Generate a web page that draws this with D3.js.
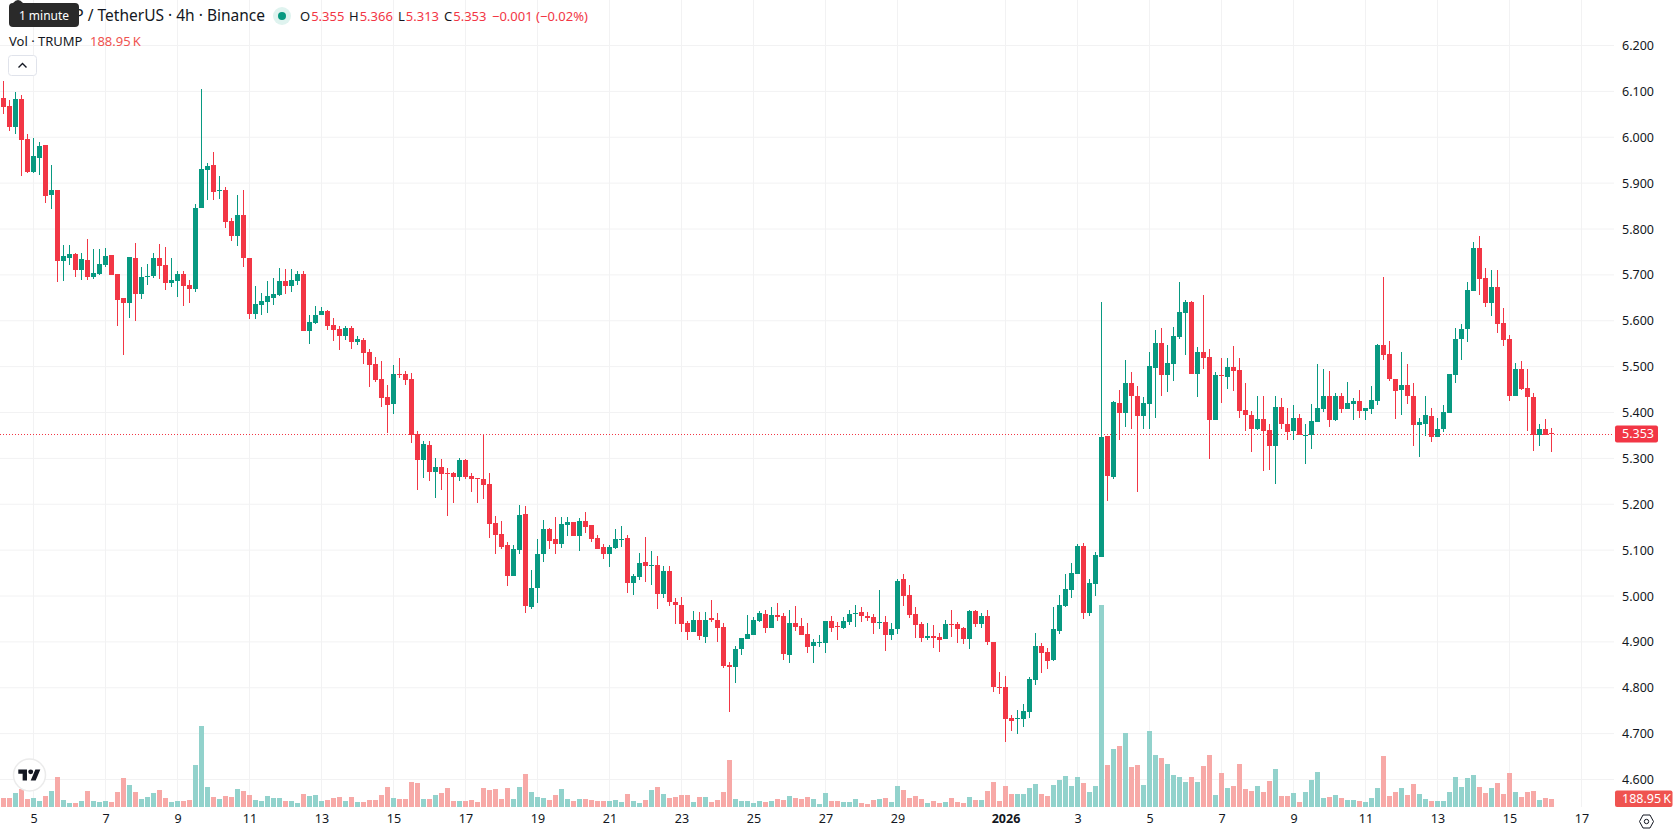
<!DOCTYPE html>
<html>
<head>
<meta charset="utf-8">
<title>TRUMP / TetherUS 4h</title>
<script src="https://cdnjs.cloudflare.com/ajax/libs/d3/7.8.5/d3.min.js"></script>
<style>
  html, body { margin: 0; padding: 0; background: #fff; overflow: hidden; }
  svg { display: block; font-family: "Noto Sans", sans-serif; }
</style>
</head>
<body>
<svg id="chart" width="1678" height="835"></svg>
<script>
// 4h candles, oldest first
const opens = [
  6.085,6.068,6.022,6.083,5.996,5.924,5.955,5.983,5.874,5.885,
  5.730,5.736,5.745,5.710,5.732,5.695,5.701,5.721,5.743,5.701,
  5.649,5.638,5.736,5.658,5.695,5.697,5.736,5.721,5.682,5.686,
  5.701,5.677,5.669,5.845,5.928,5.939,5.883,5.885,5.817,5.784,
  5.830,5.736,5.614,5.634,5.640,5.649,5.656,5.686,5.675,5.686,
  5.701,5.577,5.595,5.612,5.621,5.590,5.581,5.566,5.584,5.553,
  5.558,5.532,5.506,5.473,5.434,5.419,5.484,5.484,5.473,5.353,
  5.296,5.329,5.270,5.281,5.268,5.268,5.259,5.296,5.261,5.257,
  5.255,5.244,5.159,5.135,5.111,5.043,5.100,5.179,4.976,5.017,
  5.091,5.146,5.124,5.113,5.155,5.161,5.131,5.163,5.154,5.126,
  5.107,5.091,5.104,5.122,5.126,5.028,5.041,5.074,5.065,5.067,
  5.004,5.054,4.987,4.981,4.942,4.921,4.948,4.911,4.951,4.948,
  4.933,4.850,4.846,4.885,4.907,4.916,4.946,4.961,4.931,4.959,
  4.957,4.872,4.942,4.935,4.918,4.892,4.898,4.898,4.946,4.935,
  4.931,4.944,4.961,4.966,4.957,4.955,4.942,4.944,4.916,4.929,
  5.036,5.003,4.961,4.940,4.909,4.913,4.911,4.907,4.940,4.940,
  4.931,4.907,4.968,4.940,4.957,4.900,4.802,4.802,4.735,4.732,
  4.732,4.748,4.817,4.892,4.879,4.861,4.924,4.979,5.014,5.049,
  5.110,4.964,5.027,5.086,5.348,5.259,5.420,5.398,5.464,5.437,
  5.392,5.418,5.496,5.551,5.481,5.505,5.564,5.616,5.640,5.485,
  5.531,5.520,5.383,5.481,5.477,5.499,5.492,5.405,5.394,5.363,
  5.385,5.361,5.328,5.411,5.376,5.359,5.387,5.350,5.350,5.379,
  5.407,5.437,5.383,5.435,5.407,5.418,5.424,5.403,5.407,5.424,
  5.547,5.527,5.472,5.448,5.461,5.435,5.372,5.376,5.392,5.346,
  5.363,5.398,5.481,5.560,5.581,5.664,5.758,5.693,5.638,5.673,
  5.595,5.560,5.437,5.494,5.453,5.433,5.352,5.363,5.355
];
const highs = [
  6.123,6.081,6.099,6.092,6.007,5.998,5.989,5.983,5.939,5.885,
  5.765,5.765,5.747,5.747,5.778,5.756,5.756,5.758,5.743,5.701,
  5.649,5.739,5.769,5.717,5.723,5.747,5.767,5.760,5.736,5.708,
  5.708,5.688,5.854,6.105,5.944,5.968,5.915,5.891,5.824,5.874,
  5.885,5.736,5.675,5.660,5.686,5.693,5.715,5.712,5.712,5.708,
  5.708,5.612,5.632,5.630,5.623,5.605,5.588,5.588,5.588,5.567,
  5.563,5.539,5.521,5.512,5.460,5.504,5.519,5.491,5.486,5.360,
  5.338,5.338,5.301,5.299,5.279,5.270,5.301,5.299,5.268,5.257,
  5.352,5.268,5.174,5.163,5.117,5.111,5.198,5.196,5.056,5.124,
  5.165,5.148,5.172,5.172,5.172,5.161,5.170,5.183,5.154,5.133,
  5.113,5.111,5.146,5.152,5.133,5.048,5.093,5.128,5.098,5.087,
  5.065,5.065,4.995,4.998,4.945,4.968,4.966,4.966,4.992,4.964,
  4.942,4.857,4.892,4.909,4.959,4.955,4.968,4.970,4.975,4.985,
  4.964,4.970,4.979,4.951,4.942,4.907,4.916,4.946,4.957,4.944,
  4.955,4.970,4.981,4.977,4.966,4.961,5.012,4.957,4.942,5.038,
  5.047,5.023,4.975,4.944,4.942,4.937,4.920,4.948,4.970,4.944,
  4.933,4.970,4.970,4.964,4.970,4.900,4.835,4.826,4.741,4.752,
  4.765,4.824,4.920,4.898,4.887,4.977,5.003,5.047,5.073,5.114,
  5.116,5.036,5.095,5.640,5.348,5.424,5.448,5.514,5.488,5.457,
  5.433,5.531,5.579,5.584,5.547,5.586,5.684,5.645,5.643,5.542,
  5.656,5.538,5.488,5.518,5.518,5.544,5.518,5.464,5.403,5.437,
  5.437,5.374,5.437,5.431,5.409,5.416,5.396,5.376,5.418,5.505,
  5.494,5.490,5.442,5.442,5.466,5.431,5.448,5.409,5.457,5.549,
  5.695,5.555,5.472,5.531,5.505,5.464,5.387,5.435,5.409,5.389,
  5.416,5.485,5.584,5.592,5.684,5.771,5.784,5.715,5.710,5.710,
  5.627,5.568,5.507,5.512,5.494,5.442,5.376,5.385,5.366
];
const lows = [
  6.051,6.013,6.007,5.915,5.922,5.922,5.917,5.856,5.843,5.684,
  5.686,5.721,5.695,5.688,5.688,5.691,5.699,5.717,5.699,5.588,
  5.525,5.605,5.599,5.647,5.677,5.693,5.691,5.667,5.673,5.652,
  5.632,5.638,5.662,5.845,5.863,5.863,5.865,5.802,5.773,5.763,
  5.717,5.603,5.603,5.612,5.616,5.634,5.653,5.658,5.662,5.677,
  5.577,5.550,5.592,5.612,5.580,5.555,5.536,5.557,5.538,5.547,
  5.506,5.456,5.467,5.412,5.355,5.397,5.475,5.460,5.333,5.231,
  5.257,5.251,5.213,5.231,5.174,5.203,5.251,5.255,5.227,5.203,
  5.211,5.126,5.091,5.102,5.021,5.043,5.091,4.963,4.971,4.984,
  5.074,5.102,5.091,5.104,5.131,5.131,5.098,5.137,5.117,5.102,
  5.080,5.063,5.102,5.107,5.006,5.002,5.035,5.030,5.024,4.971,
  4.995,4.978,4.939,4.921,4.903,4.921,4.903,4.898,4.944,4.900,
  4.844,4.748,4.811,4.872,4.907,4.916,4.944,4.920,4.931,4.946,
  4.861,4.855,4.924,4.916,4.876,4.855,4.889,4.876,4.922,4.903,
  4.929,4.937,4.933,4.944,4.946,4.918,4.929,4.881,4.905,4.918,
  4.979,4.953,4.909,4.900,4.905,4.887,4.879,4.907,4.911,4.898,
  4.896,4.885,4.933,4.931,4.894,4.791,4.787,4.682,4.706,4.700,
  4.715,4.735,4.807,4.833,4.841,4.859,4.918,4.975,4.996,5.049,
  4.949,4.957,5.001,5.084,5.208,5.256,5.341,5.368,5.365,5.226,
  5.363,5.363,5.387,5.437,5.444,5.468,5.560,5.525,5.483,5.433,
  5.494,5.298,5.383,5.420,5.451,5.446,5.389,5.359,5.313,5.361,
  5.272,5.274,5.245,5.365,5.339,5.341,5.350,5.287,5.320,5.379,
  5.400,5.368,5.381,5.398,5.407,5.383,5.389,5.383,5.396,5.416,
  5.514,5.468,5.385,5.394,5.418,5.328,5.304,5.348,5.335,5.346,
  5.357,5.398,5.464,5.514,5.553,5.664,5.656,5.629,5.610,5.573,
  5.544,5.424,5.435,5.448,5.359,5.317,5.326,5.350,5.313
];
const closes = [
  6.066,6.022,6.083,5.994,5.924,5.959,5.981,5.872,5.885,5.730,
  5.741,5.745,5.710,5.734,5.695,5.704,5.723,5.741,5.699,5.645,
  5.638,5.739,5.658,5.695,5.697,5.736,5.719,5.682,5.688,5.701,
  5.675,5.669,5.845,5.931,5.937,5.880,5.885,5.815,5.784,5.830,
  5.736,5.614,5.636,5.643,5.653,5.658,5.686,5.675,5.688,5.701,
  5.577,5.597,5.612,5.621,5.588,5.580,5.566,5.584,5.553,5.560,
  5.530,5.504,5.471,5.432,5.416,5.484,5.482,5.471,5.351,5.296,
  5.331,5.270,5.281,5.266,5.266,5.259,5.296,5.259,5.255,5.255,
  5.242,5.157,5.133,5.107,5.043,5.102,5.176,4.978,5.017,5.091,
  5.146,5.120,5.113,5.157,5.161,5.131,5.163,5.150,5.124,5.102,
  5.091,5.107,5.124,5.124,5.028,5.043,5.072,5.065,5.067,5.004,
  5.054,4.987,4.980,4.940,4.921,4.948,4.912,4.948,4.948,4.931,
  4.848,4.846,4.885,4.909,4.918,4.948,4.964,4.931,4.959,4.955,
  4.874,4.942,4.933,4.916,4.889,4.900,4.900,4.946,4.931,4.933,
  4.946,4.961,4.964,4.957,4.953,4.942,4.944,4.916,4.929,5.033,
  5.001,4.959,4.937,4.909,4.913,4.909,4.905,4.940,4.937,4.929,
  4.907,4.968,4.940,4.957,4.900,4.802,4.800,4.732,4.728,4.735,
  4.750,4.820,4.892,4.876,4.859,4.927,4.981,5.016,5.051,5.110,
  4.964,5.029,5.090,5.346,5.261,5.422,5.398,5.464,5.435,5.392,
  5.420,5.501,5.551,5.481,5.507,5.566,5.619,5.640,5.485,5.531,
  5.518,5.383,5.481,5.479,5.499,5.490,5.403,5.394,5.363,5.385,
  5.359,5.328,5.411,5.374,5.357,5.389,5.352,5.352,5.381,5.409,
  5.437,5.383,5.435,5.407,5.420,5.424,5.403,5.409,5.427,5.547,
  5.525,5.472,5.446,5.461,5.435,5.372,5.379,5.394,5.346,5.365,
  5.400,5.485,5.560,5.581,5.667,5.758,5.691,5.638,5.673,5.592,
  5.557,5.437,5.494,5.451,5.433,5.352,5.365,5.352,5.353
];
// traded volume per candle, in thousands of TRUMP
const volumes = [
  213,213,331,425,189,213,142,260,378,709,
  165,94,94,142,378,142,118,142,118,354,
  685,520,354,189,236,331,402,213,118,142,
  142,165,992,1913,472,236,189,260,236,425,
  378,283,165,142,260,213,213,142,142,94,
  307,260,283,142,165,213,236,142,236,118,
  118,165,165,283,472,213,189,189,590,567,
  189,189,283,331,449,142,142,142,165,118,
  449,402,425,189,449,189,472,779,354,236,
  213,165,283,425,189,142,189,189,165,142,
  142,142,165,118,307,142,94,165,402,472,
  307,213,236,283,283,118,236,236,118,165,
  354,1110,189,142,142,94,142,118,142,189,
  165,260,213,189,236,189,71,331,142,142,
  118,118,189,94,71,165,189,213,118,496,
  402,213,260,189,94,142,94,118,213,118,
  94,236,165,165,378,590,142,496,307,307,
  307,449,543,307,260,520,638,732,496,709,
  567,354,496,4771,992,1370,1441,1748,945,992,
  520,1795,1228,1157,1016,756,709,590,709,590,
  968,1228,283,803,449,496,1016,425,378,496,
  354,614,897,260,260,331,118,354,638,827,
  213,236,283,213,165,165,142,118,213,449,
  1205,260,354,449,283,543,307,189,142,142,
  142,354,709,472,685,756,472,331,449,567,
  307,803,354,236,354,378,165,213,188.95
];
const priceTicks = [6.2,6.1,6.0,5.9,5.8,5.7,5.6,5.5,5.4,5.3,5.2,5.1,5.0,4.9,4.8,4.7,4.6];
const dateTickBars = [5,17,29,41,53,65,77,89,101,113,125,137,149,167,179,191,203,215,227,239,251,263];
const dateTickLabels = ["5","7","9","11","13","15","17","19","21","23","25","27","29","2026","3","5","7","9","11","13","15","17"];
const lastPrice = 5.353;
const lastVolumeLabel = "188.95\u2009K";
const legendOHLC = [["O","5.355"],["H","5.366"],["L","5.313"],["C","5.353"]];
const legendChange = "\u22120.001 (\u22120.02%)";

const UP = "#089981", DOWN = "#F23645";
const VOL_UP = "#92D2CC", VOL_DOWN = "#F7A9A7";
const GRID = "#F2F2F3", TEXT = "#131722";
const paneRight = 1614, paneBottom = 807;

const svg = d3.select("#chart");
const bars = d3.range(opens.length);

const x = d3.scaleLinear().domain([0, 1]).range([3.5, 9.5]);
const y = d3.scaleLinear().domain([6.2, 4.6]).range([45.5, 779.5]);
const yVol = d3.scaleLinear().domain([0, 5000]).range([paneBottom, paneBottom - 211.7]);
const snap = v => Math.round(v);

// grid
const grid = svg.append("g");
grid.selectAll("line.v").data(dateTickBars).join("line")
  .attr("x1", d => x(d)).attr("x2", d => x(d))
  .attr("y1", 0).attr("y2", paneBottom)
  .attr("stroke", GRID);
grid.selectAll("line.h").data(priceTicks).join("line")
  .attr("x1", 0).attr("x2", paneRight)
  .attr("y1", d => y(d)).attr("y2", d => y(d))
  .attr("stroke", GRID);

// volume histogram along the bottom of the pane
svg.append("g").selectAll("rect").data(bars).join("rect")
  .attr("x", i => x(i) - 2.5)
  .attr("width", 5)
  .attr("y", i => snap(yVol(volumes[i])))
  .attr("height", i => paneBottom - snap(yVol(volumes[i])))
  .attr("fill", i => closes[i] >= opens[i] ? VOL_UP : VOL_DOWN);

// last price line
svg.append("line")
  .attr("x1", 0).attr("x2", paneRight)
  .attr("y1", Math.floor(y(lastPrice)) + 0.5).attr("y2", Math.floor(y(lastPrice)) + 0.5)
  .attr("stroke", DOWN).attr("stroke-dasharray", "1 2");

// candles: wick first, then body
const candle = svg.append("g").selectAll("g").data(bars).join("g")
  .attr("fill", i => closes[i] >= opens[i] ? UP : DOWN);
candle.append("rect")
  .attr("x", i => x(i) - 0.5)
  .attr("width", 1)
  .attr("y", i => snap(y(highs[i])))
  .attr("height", i => Math.max(1, snap(y(lows[i])) - snap(y(highs[i]))));
candle.append("rect")
  .attr("x", i => x(i) - 2.5)
  .attr("width", 5)
  .attr("y", i => snap(y(Math.max(opens[i], closes[i]))))
  .attr("height", i => Math.max(1, snap(y(Math.min(opens[i], closes[i]))) - snap(y(Math.max(opens[i], closes[i])))));

// price scale
const yAxis = svg.append("g")
  .attr("transform", `translate(${paneRight + 8},0)`)
  .call(d3.axisRight(y).tickValues(priceTicks).tickFormat(d3.format(".3f")).tickSize(0).tickPadding(0));
yAxis.select(".domain").remove();
yAxis.selectAll("text").attr("fill", TEXT).attr("font-size", 12.5).attr("font-family", '"Noto Sans", sans-serif');

// last price and last volume tags
svg.append("rect").attr("x", paneRight + 1).attr("width", 43).attr("height", 17)
  .attr("y", y(lastPrice) - 8.5).attr("rx", 2).attr("fill", DOWN);
svg.append("text").attr("x", paneRight + 8).attr("y", y(lastPrice)).attr("dy", "0.35em")
  .attr("fill", "#fff").attr("font-size", 12.5).text(d3.format(".3f")(lastPrice));
svg.append("rect").attr("x", paneRight + 1).attr("width", 57.5).attr("height", 16.5)
  .attr("y", paneBottom - 16.5).attr("rx", 2).attr("fill", "#EF5350");
svg.append("text").attr("x", paneRight + 8).attr("y", paneBottom - 8).attr("dy", "0.35em")
  .attr("fill", "#fff").attr("font-size", 12.5).text(lastVolumeLabel);

// time scale
const xAxis = svg.append("g")
  .attr("transform", `translate(0,${paneBottom + 4})`)
  .call(d3.axisBottom(x).tickValues(dateTickBars)
    .tickFormat(d => dateTickLabels[dateTickBars.indexOf(d)]).tickSize(0).tickPadding(3));
xAxis.select(".domain").remove();
xAxis.selectAll("text")
  .attr("fill", TEXT).attr("font-size", 12.5).attr("font-family", '"Noto Sans", sans-serif')
  .attr("font-weight", d => dateTickLabels[dateTickBars.indexOf(d)] === "2026" ? 700 : 400);

// settings button in the scale corner
const gear = svg.append("g").attr("transform", "translate(1646.5,821.5)")
  .attr("fill", "none").attr("stroke", TEXT).attr("stroke-width", 1);
gear.append("path").attr("d", "M-7 0L-3.5 -6.5H3.5L7 0L3.5 6.5H-3.5Z");
gear.append("circle").attr("r", 2.2);

// legend rows
svg.append("text").attr("x", 265).attr("y", 16).attr("dy", "0.35em").attr("text-anchor", "end")
  .attr("fill", TEXT).attr("font-size", 15.5).text("TRUMP / TetherUS \u00B7 4h \u00B7 Binance");
svg.append("circle").attr("cx", 282).attr("cy", 16).attr("r", 9).attr("fill", "#DFF3EF");
svg.append("circle").attr("cx", 282).attr("cy", 16).attr("r", 4).attr("fill", UP);

const legendX = [300, 349, 398, 444];
legendOHLC.forEach(([k, v], n) => {
  const t = svg.append("text").attr("x", legendX[n]).attr("y", 16.5).attr("dy", "0.35em").attr("font-size", 13);
  t.append("tspan").attr("fill", TEXT).text(k);
  t.append("tspan").attr("fill", DOWN).attr("dx", 1).text(v);
});
svg.append("text").attr("x", 492).attr("y", 16.5).attr("dy", "0.35em")
  .attr("font-size", 13).attr("fill", DOWN).text(legendChange);

svg.append("text").attr("x", 9).attr("y", 41).attr("dy", "0.35em")
  .attr("font-size", 13).attr("fill", TEXT).text("Vol \u00B7 TRUMP");
svg.append("text").attr("x", 90).attr("y", 41).attr("dy", "0.35em")
  .attr("font-size", 13).attr("fill", "#EF5350").text(lastVolumeLabel);

// legend collapse button
svg.append("rect").attr("x", 8.5).attr("y", 55.5).attr("width", 28).attr("height", 20).attr("rx", 3)
  .attr("fill", "#fff").attr("stroke", "#E0E3EB");
svg.append("path").attr("d", "M18.5 67.5L22.5 63.5L26.5 67.5").attr("fill", "none")
  .attr("stroke", TEXT).attr("stroke-width", 1.4);

// hover tooltip above the legend
svg.append("path").attr("d", "M13 3Q18 -3 23 3Z").attr("fill", "#2A2A2A");
svg.append("rect").attr("x", 9).attr("y", 3).attr("width", 70).attr("height", 24).attr("rx", 4).attr("fill", "#2A2A2A");
svg.append("text").attr("x", 44).attr("y", 15.5).attr("dy", "0.35em").attr("text-anchor", "middle")
  .attr("fill", "#fff").attr("font-size", 12).text("1 minute");

// attribution badge
const badge = svg.append("g").attr("transform", "translate(29.5,775)");
badge.append("circle").attr("r", 16).attr("fill", "#fff").attr("stroke", "#EBEBEB").attr("stroke-width", 1.5);
badge.append("g").attr("transform", "translate(-11.2,-8.1) scale(0.62)").attr("fill", "#131722")
  .call(g => {
    g.append("path").attr("d", "M14 22H7V11H0V4h14v18zM28 22h-8l7.5-18h8L28 22z");
    g.append("circle").attr("cx", 20).attr("cy", 8).attr("r", 4);
  });
</script>
</body>
</html>
